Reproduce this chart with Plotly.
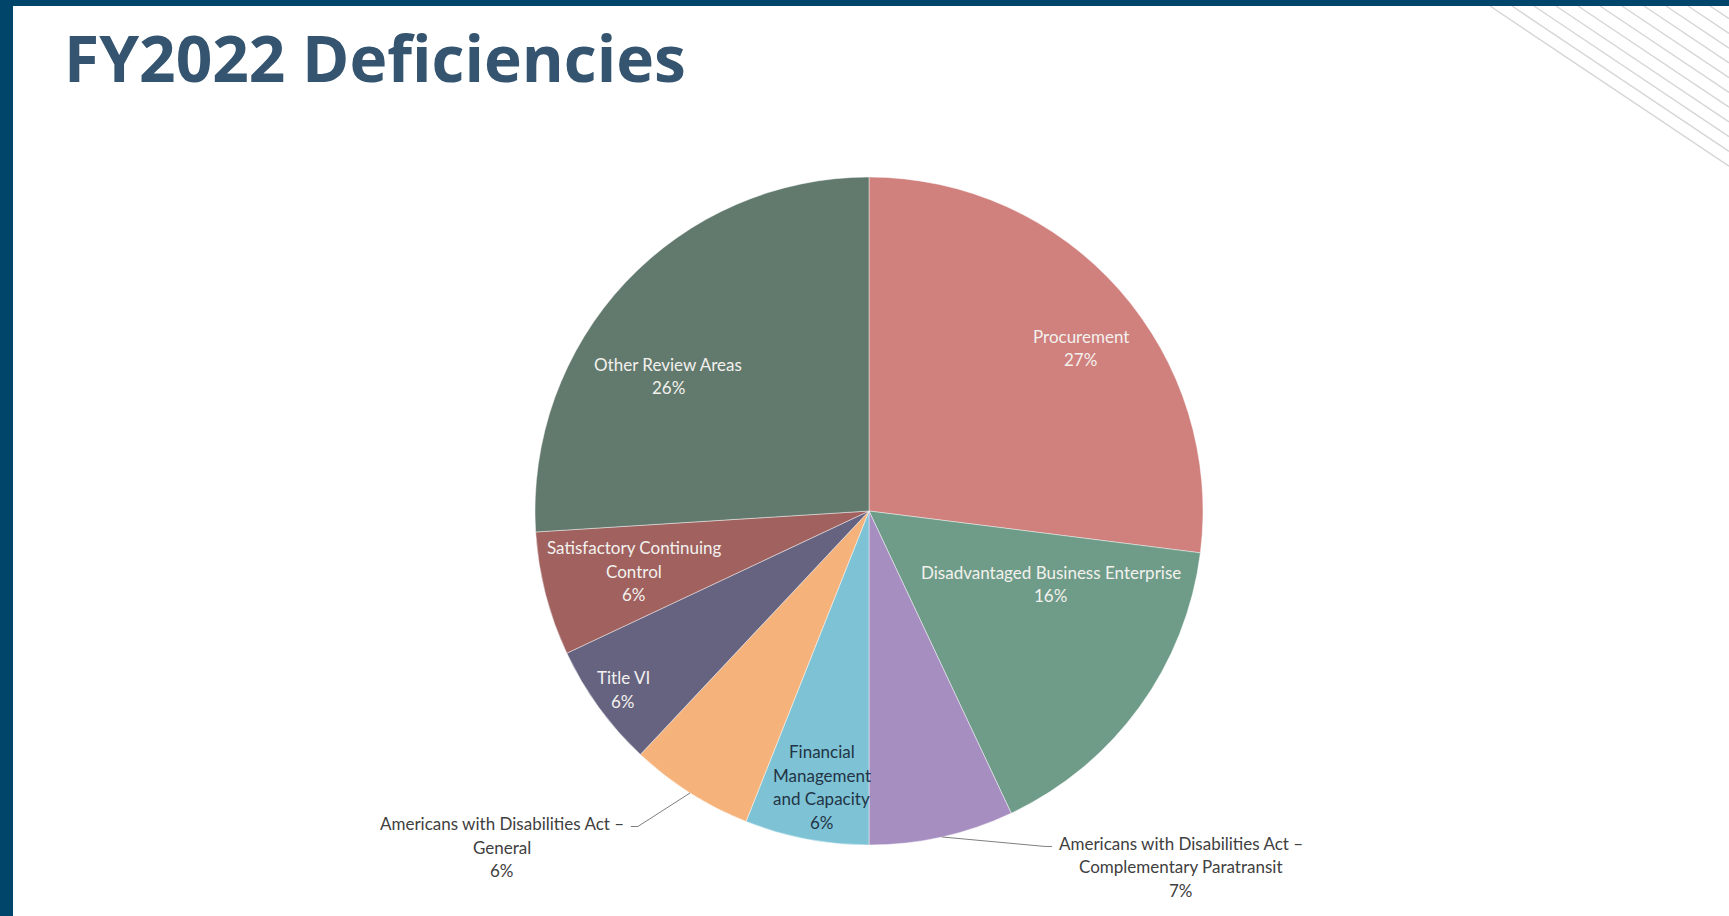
import math
import plotly.graph_objects as go

# ---------------- data ----------------
categories = [
    "Procurement",
    "Disadvantaged Business Enterprise",
    "Americans with Disabilities Act – Complementary Paratransit",
    "Financial Management and Capacity",
    "Americans with Disabilities Act – General",
    "Title VI",
    "Satisfactory Continuing Control",
    "Other Review Areas",
]
percent_values = [27, 16, 7, 6, 6, 6, 6, 26]
label_lines = [
    ["Procurement"],
    ["Disadvantaged Business Enterprise"],
    ["Americans with Disabilities Act –", "Complementary Paratransit"],
    ["Financial", "Management", "and Capacity"],
    ["Americans with Disabilities Act –", "General"],
    ["Title VI"],
    ["Satisfactory Continuing", "Control"],
    ["Other Review Areas"],
]
slice_colors = ["#D0807D", "#6E9C88", "#A78EC0", "#7EC3D5",
                "#F5B37B", "#656380", "#A0615F", "#62796D"]
title_text = "FY2022 Deficiencies"

# ---------------- layout constants (style) ----------------
W, H = 1729, 916
CX, CY, R = 869, 511, 334          # pie centre / radius in pixels
FONT = "Lato"
LABEL_SIZE = 17
LINE_H = 23.5
LIGHT = "#F3F1EE"
DARK = "#233446"
OUT = "#404040"
# per-slice label placement: (radius fraction, angle shift deg, colour, outside offset)
placement = [
    (0.80, 3.8, LIGHT, None),
    (0.587, -14.1, LIGHT, None),
    (1.0, 0.0, OUT, (239, 30)),
    (0.838, -1.1, DARK, None),
    (1.0, 0.0, OUT, (-188, 54)),
    (0.91, 0.0, LIGHT, None),
    (0.726, 0.0, LIGHT, None),
    (0.725, -9.3, LIGHT, None),
]


def px2paper(x, y):
    return x / W, 1 - y / H


fig = go.Figure()
fig.add_trace(go.Pie(
    labels=categories,
    values=percent_values,
    sort=False,
    direction="clockwise",
    rotation=0,
    marker=dict(colors=slice_colors, line=dict(color="rgba(255,255,255,0.55)", width=0.8)),
    textinfo="none",
    hoverinfo="label+percent",
    showlegend=False,
    domain=dict(x=[(CX - R) / W, (CX + R) / W],
                y=[1 - (CY + R) / H, 1 - (CY - R) / H]),
))

annotations = []
shapes = []
total = sum(percent_values)
cum = 0
for lines, v, (rf, dth, col, off) in zip(label_lines, percent_values, placement):
    a0 = cum / total * 360
    cum += v
    a1 = cum / total * 360
    ang = math.radians((a0 + a1) / 2 + dth)
    px = CX + rf * R * math.sin(ang)
    py = CY - rf * R * math.cos(ang)
    pct = f"{round(v / total * 100)}%"
    all_lines = lines + [pct]
    if off is not None:
        # leader line from slice edge to label, ending beside the first text line
        bx = px + off[0]
        by = py + off[1]
        first_y = by - (len(all_lines) - 1) / 2 * LINE_H + 3
        half_w = 0.5 * LABEL_SIZE * 0.445 * len(all_lines[0])
        if off[0] > 0:
            ex = bx - half_w - 4
            hook = -7
        else:
            ex = bx + half_w + 4
            hook = 7
        pts = [px2paper(px, py), px2paper(ex + hook, first_y), px2paper(ex, first_y)]
        path = "M " + " L ".join(f"{a:.5f},{b:.5f}" for a, b in pts)
        shapes.append(dict(type="path", xref="paper", yref="paper", path=path,
                           line=dict(color="#7F7F7F", width=1)))
        px, py = bx, by
    n = len(all_lines)
    for i, t in enumerate(all_lines):
        ly = py + (i - (n - 1) / 2) * LINE_H
        xx, yy = px2paper(px, ly)
        annotations.append(dict(
            x=xx, y=yy, xref="paper", yref="paper", text=t, showarrow=False,
            xanchor="center", yanchor="middle",
            font=dict(family=FONT, size=LABEL_SIZE, color=col),
        ))

# title
tx, ty = px2paper(62, 58)
annotations.append(dict(
    x=tx, y=ty, xref="paper", yref="paper", text=f"<b>{title_text}</b>",
    showarrow=False, xanchor="left", yanchor="middle",
    font=dict(family="Open Sans", size=64, color="#34546F"),
))

# dark frame bars
shapes.append(dict(type="rect", xref="paper", yref="paper", x0=0, x1=13 / W, y0=0, y1=1,
                   fillcolor="#01456B", line=dict(width=0), layer="above"))
shapes.append(dict(type="rect", xref="paper", yref="paper", x0=0, x1=1, y0=1 - 6 / H, y1=1,
                   fillcolor="#01456B", line=dict(width=0), layer="above"))
# decorative diagonal stripes (top-right)
for i in range(12):
    sx = 1490 + 22 * i
    ex = W
    ey = 6 + (ex - sx) * 0.67
    x0p, y0p = px2paper(sx, 6)
    x1p, y1p = px2paper(ex, ey)
    shapes.append(dict(type="line", xref="paper", yref="paper", x0=x0p, y0=y0p, x1=x1p, y1=y1p,
                       line=dict(color="#D6D6D6", width=1.5), layer="below"))

fig.update_layout(
    width=W, height=H,
    margin=dict(l=0, r=0, t=0, b=0),
    paper_bgcolor="white",
    plot_bgcolor="white",
    annotations=annotations,
    shapes=shapes,
)

fig.write_html(
    "out.html",
    config={"displayModeBar": False},
    post_script="document.body.style.margin='0';document.body.style.overflow='hidden';",
)
